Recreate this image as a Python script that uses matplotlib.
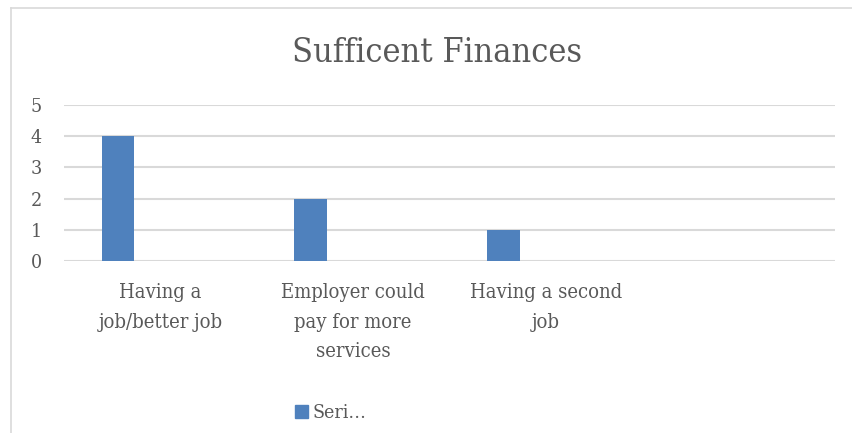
import numpy as np
import matplotlib.pyplot as plt
from matplotlib.lines import Line2D
from matplotlib.patches import Patch

# chart data
categories = ["Having a\njob/better job", "Employer could\npay for more\nservices", "Having a second\njob", ""]
values = [4, 2, 1]
series_name = "Seri…"

plt.rcParams['font.family'] = ['DejaVu Serif']
plt.rcParams['font.stretch'] = 'condensed'
text_color = "#595959"
bar_color = "#4F81BD"
grid_color = "#D9D9D9"

fig = plt.figure(figsize=(8.53, 4.33), dpi=100)
ax = fig.add_axes([64/853, 1 - 261/433, 771/853, 156/433])

x = np.arange(len(values))
ax.bar(x - 0.22, values, width=0.17, color=bar_color, zorder=3)

ax.set_xlim(-0.5, len(categories) - 0.5)
ax.set_ylim(0, 5)
ax.set_yticks(range(6))
ax.set_xticks(np.arange(len(categories)))
ax.set_xticklabels(categories, linespacing=1.7)
ax.tick_params(axis='y', length=0, pad=16, labelsize=14, labelcolor=text_color)
ax.tick_params(axis='x', length=0, pad=16, labelsize=14.5, labelcolor=text_color)
for v in range(6):
    ax.axhline(v, color=grid_color, lw=1.5, zorder=1)
for s in ax.spines.values():
    s.set_visible(False)

fig.text(437/853, 1 - 53/433, "Sufficent Finances", ha='center', va='center',
         fontsize=24.5, color=text_color)

leg = fig.legend(handles=[Patch(color=bar_color, label=series_name)],
                 loc='center', bbox_to_anchor=(331/853, 1 - 413/433),
                 frameon=False, fontsize=14, handlelength=0.65, handleheight=0.65,
                 handletextpad=0.25, labelcolor=text_color)

# chart frame (left and top edges)
fig.add_artist(Line2D([11/853, 11/853], [0, 1 - 8/433], color=grid_color, lw=1.2))
fig.add_artist(Line2D([11/853, 1], [1 - 8/433, 1 - 8/433], color=grid_color, lw=1.2))

fig.savefig("out.png", dpi=100, facecolor="white")
